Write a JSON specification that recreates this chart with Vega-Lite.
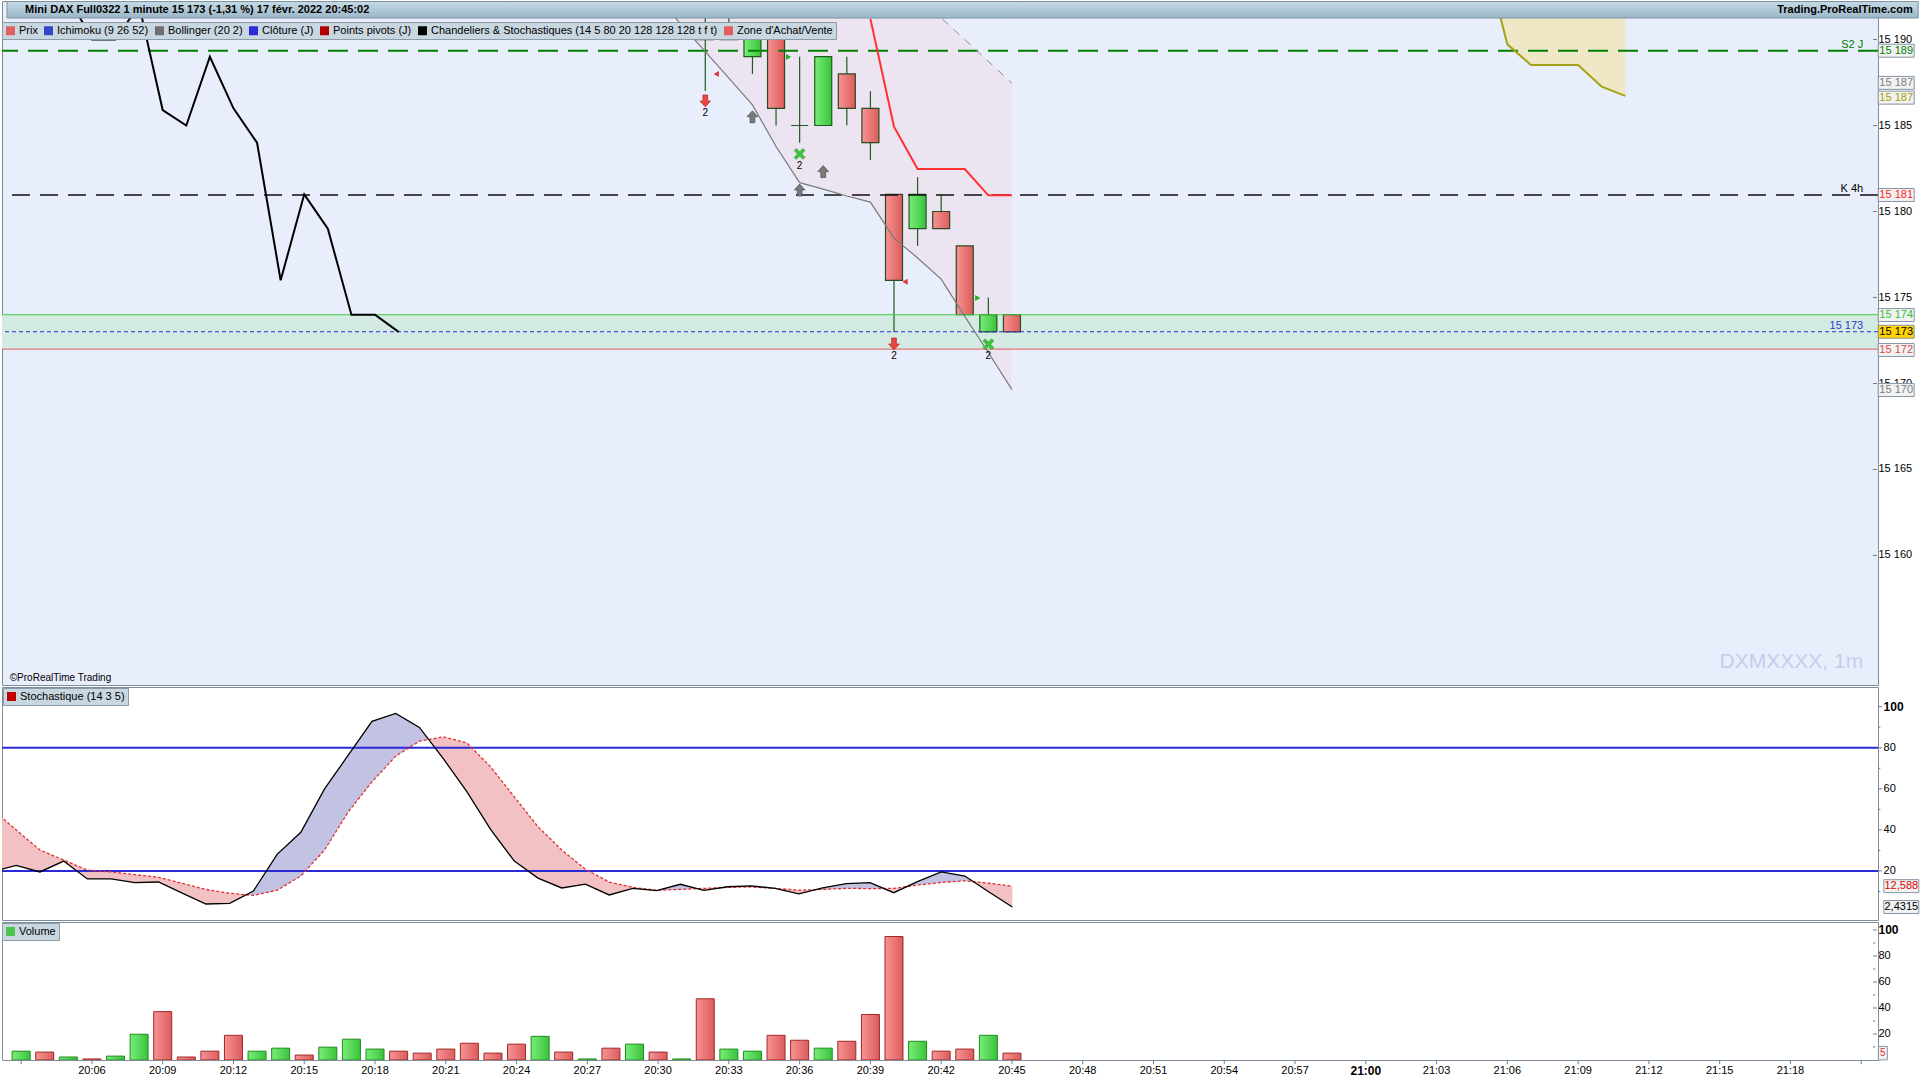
{
"$schema": "https://vega.github.io/schema/vega-lite/v6.json",
"padding": 0,
"background": "#FFFFFF",
"spacing": 0,
"datasets": {
"candles": [
{"t":"2022-02-17T20:32:00","open":15190.8,"high":15191.6,"low":15187.0,"close":15190.0},
{"t":"2022-02-17T20:33:00","open":15190.8,"high":15191.6,"low":15190.0,"close":15190.0},
{"t":"2022-02-17T20:34:00","open":15189.0,"high":15190.4,"low":15188.0,"close":15190.4},
{"t":"2022-02-17T20:35:00","open":15190.5,"high":15191.0,"low":15185.0,"close":15186.0},
{"t":"2022-02-17T20:36:00","open":15185.0,"high":15189.0,"low":15184.0,"close":15185.0},
{"t":"2022-02-17T20:37:00","open":15185.0,"high":15189.0,"low":15185.0,"close":15189.0},
{"t":"2022-02-17T20:38:00","open":15188.0,"high":15189.0,"low":15185.0,"close":15186.0},
{"t":"2022-02-17T20:39:00","open":15186.0,"high":15187.0,"low":15183.0,"close":15184.0},
{"t":"2022-02-17T20:40:00","open":15181.0,"high":15181.0,"low":15173.0,"close":15176.0},
{"t":"2022-02-17T20:41:00","open":15179.0,"high":15182.0,"low":15178.0,"close":15181.0},
{"t":"2022-02-17T20:42:00","open":15180.0,"high":15181.0,"low":15179.0,"close":15179.0},
{"t":"2022-02-17T20:43:00","open":15178.0,"high":15178.0,"low":15174.0,"close":15174.0},
{"t":"2022-02-17T20:44:00","open":15173.0,"high":15175.0,"low":15173.0,"close":15174.0},
{"t":"2022-02-17T20:45:00","open":15174.0,"high":15174.0,"low":15173.0,"close":15173.0}
],
"bb": [
{"t":"2022-02-17T20:30:00","low":15192.4,"up":15200},
{"t":"2022-02-17T20:31:00","low":15190.84,"up":15200},
{"t":"2022-02-17T20:32:00","low":15189.3,"up":15200},
{"t":"2022-02-17T20:33:00","low":15187.76,"up":15200},
{"t":"2022-02-17T20:34:00","low":15186.2,"up":15200},
{"t":"2022-02-17T20:35:00","low":15183.78,"up":15200},
{"t":"2022-02-17T20:36:00","low":15181.68,"up":15199},
{"t":"2022-02-17T20:37:00","low":15181.3,"up":15198},
{"t":"2022-02-17T20:38:00","low":15180.9,"up":15197},
{"t":"2022-02-17T20:39:00","low":15180.55,"up":15196},
{"t":"2022-02-17T20:40:00","low":15178.45,"up":15194},
{"t":"2022-02-17T20:41:00","low":15177.3,"up":15192.5},
{"t":"2022-02-17T20:42:00","low":15176.07,"up":15191.26},
{"t":"2022-02-17T20:43:00","low":15173.9,"up":15190.0},
{"t":"2022-02-17T20:44:00","low":15171.8,"up":15188.73},
{"t":"2022-02-17T20:45:00","low":15169.64,"up":15187.46}
],
"closeLine": [
{"t":"2022-02-17T20:05:00","v":15192.5},
{"t":"2022-02-17T20:06:00","v":15190.0},
{"t":"2022-02-17T20:07:00","v":15190.0},
{"t":"2022-02-17T20:08:00","v":15192.0},
{"t":"2022-02-17T20:09:00","v":15185.9},
{"t":"2022-02-17T20:10:00","v":15185.0},
{"t":"2022-02-17T20:11:00","v":15189.0},
{"t":"2022-02-17T20:12:00","v":15186.0},
{"t":"2022-02-17T20:13:00","v":15184.0},
{"t":"2022-02-17T20:14:00","v":15176.0},
{"t":"2022-02-17T20:15:00","v":15181.0},
{"t":"2022-02-17T20:16:00","v":15179.0},
{"t":"2022-02-17T20:17:00","v":15174.0},
{"t":"2022-02-17T20:18:00","v":15174.0},
{"t":"2022-02-17T20:19:00","v":15173.0}
],
"kijun": [
{"t":"2022-02-17T20:39:00","v":15191.2},
{"t":"2022-02-17T20:40:00","v":15184.93},
{"t":"2022-02-17T20:41:00","v":15182.47},
{"t":"2022-02-17T20:42:00","v":15182.47},
{"t":"2022-02-17T20:43:00","v":15182.47},
{"t":"2022-02-17T20:44:00","v":15180.94},
{"t":"2022-02-17T20:45:00","v":15180.94}
],
"cloud": [
{"t":"2022-02-17T21:05:00","lo":15195.1,"hi":15200},
{"t":"2022-02-17T21:06:00","lo":15189.72,"hi":15200},
{"t":"2022-02-17T21:07:00","lo":15188.52,"hi":15200},
{"t":"2022-02-17T21:08:00","lo":15188.52,"hi":15200},
{"t":"2022-02-17T21:09:00","lo":15188.52,"hi":15200},
{"t":"2022-02-17T21:10:00","lo":15187.26,"hi":15200},
{"t":"2022-02-17T21:11:00","lo":15186.72,"hi":15200}
],
"signals": [
{"t":"2022-02-17T20:32:00","price":15186.43,"kind":"sellArrow"},
{"t":"2022-02-17T20:40:00","price":15172.3,"kind":"sellArrow"},
{"t":"2022-02-17T20:34:00","price":15185.51,"kind":"buyArrow"},
{"t":"2022-02-17T20:36:00","price":15181.25,"kind":"buyArrow"},
{"t":"2022-02-17T20:37:00","price":15182.32,"kind":"buyArrow"},
{"t":"2022-02-17T20:36:00","price":15183.35,"kind":"cross"},
{"t":"2022-02-17T20:44:00","price":15172.28,"kind":"cross"},
{"t":"2022-02-17T20:32:28","price":15187.99,"kind":"triLeft"},
{"t":"2022-02-17T20:40:28","price":15175.92,"kind":"triLeft"},
{"t":"2022-02-17T20:35:32","price":15188.99,"kind":"triRight"},
{"t":"2022-02-17T20:43:33","price":15174.97,"kind":"triRight"}
],
"priceLast": [
{"series":"S2 J","value":15189.35},
{"series":"Bollinger haut","value":15187.48},
{"series":"Ichimoku","value":15186.62},
{"series":"Kijun","value":15180.96},
{"series":"Zone haute","value":15173.98},
{"series":"Prix","value":15173.01},
{"series":"Zone basse","value":15171.95},
{"series":"Bollinger bas","value":15169.62}
],
"priceTicks": [{"v":15160},{"v":15165},{"v":15170},{"v":15175},{"v":15180},{"v":15185},{"v":15190}],
"pctTicks": [{"v":10},{"v":20},{"v":30},{"v":40},{"v":50},{"v":60},{"v":70},{"v":80},{"v":90},{"v":100}],
"xTicks": [
{"t":"2022-02-17T20:03:00"},{"t":"2022-02-17T20:06:00"},{"t":"2022-02-17T20:09:00"},{"t":"2022-02-17T20:12:00"},{"t":"2022-02-17T20:15:00"},{"t":"2022-02-17T20:18:00"},{"t":"2022-02-17T20:21:00"},{"t":"2022-02-17T20:24:00"},{"t":"2022-02-17T20:27:00"},{"t":"2022-02-17T20:30:00"},{"t":"2022-02-17T20:33:00"},{"t":"2022-02-17T20:36:00"},{"t":"2022-02-17T20:39:00"},{"t":"2022-02-17T20:42:00"},{"t":"2022-02-17T20:45:00"},{"t":"2022-02-17T20:48:00"},{"t":"2022-02-17T20:51:00"},{"t":"2022-02-17T20:54:00"},{"t":"2022-02-17T20:57:00"},{"t":"2022-02-17T21:00:00"},{"t":"2022-02-17T21:03:00"},{"t":"2022-02-17T21:06:00"},{"t":"2022-02-17T21:09:00"},{"t":"2022-02-17T21:12:00"},{"t":"2022-02-17T21:15:00"},{"t":"2022-02-17T21:18:00"},{"t":"2022-02-17T21:21:00"}
],
"xLabels": [
{"t":"2022-02-17T20:06:00"},{"t":"2022-02-17T20:09:00"},{"t":"2022-02-17T20:12:00"},{"t":"2022-02-17T20:15:00"},{"t":"2022-02-17T20:18:00"},{"t":"2022-02-17T20:21:00"},{"t":"2022-02-17T20:24:00"},{"t":"2022-02-17T20:27:00"},{"t":"2022-02-17T20:30:00"},{"t":"2022-02-17T20:33:00"},{"t":"2022-02-17T20:36:00"},{"t":"2022-02-17T20:39:00"},{"t":"2022-02-17T20:42:00"},{"t":"2022-02-17T20:45:00"},{"t":"2022-02-17T20:48:00"},{"t":"2022-02-17T20:51:00"},{"t":"2022-02-17T20:54:00"},{"t":"2022-02-17T20:57:00"},{"t":"2022-02-17T21:03:00"},{"t":"2022-02-17T21:06:00"},{"t":"2022-02-17T21:09:00"},{"t":"2022-02-17T21:12:00"},{"t":"2022-02-17T21:15:00"},{"t":"2022-02-17T21:18:00"}
],
"xLabelsBold": [{"t":"2022-02-17T21:00:00"}],
"legendPrice": [
{"item":"Prix"},{"item":"Ichimoku (9 26 52)"},{"item":"Bollinger (20 2)"},{"item":"Clôture (J)"},{"item":"Points pivots (J)"},{"item":"Chandeliers & Stochastiques (14 5 80 20 128 128 128 t f t)"},{"item":"Zone d'Achat/Vente"}
],
"stoch": [
{"t":"2022-02-17T20:02:00","k":19.7,"d":50.0},
{"t":"2022-02-17T20:03:00","k":22.7,"d":39.9},
{"t":"2022-02-17T20:04:00","k":19.5,"d":30.2},
{"t":"2022-02-17T20:05:00","k":24.8,"d":25.3},
{"t":"2022-02-17T20:06:00","k":16.1,"d":20.4},
{"t":"2022-02-17T20:07:00","k":16.1,"d":19.5},
{"t":"2022-02-17T20:08:00","k":14.3,"d":18.2},
{"t":"2022-02-17T20:09:00","k":14.6,"d":16.9},
{"t":"2022-02-17T20:10:00","k":9.2,"d":14.0},
{"t":"2022-02-17T20:11:00","k":3.9,"d":11.0},
{"t":"2022-02-17T20:12:00","k":4.2,"d":9.1},
{"t":"2022-02-17T20:13:00","k":10.2,"d":8.1},
{"t":"2022-02-17T20:14:00","k":28.1,"d":10.6},
{"t":"2022-02-17T20:15:00","k":38.8,"d":17.5},
{"t":"2022-02-17T20:16:00","k":60.0,"d":30.2},
{"t":"2022-02-17T20:17:00","k":76.4,"d":48.8},
{"t":"2022-02-17T20:18:00","k":92.9,"d":63.4},
{"t":"2022-02-17T20:19:00","k":96.7,"d":75.9},
{"t":"2022-02-17T20:20:00","k":89.9,"d":83.2},
{"t":"2022-02-17T20:21:00","k":74.8,"d":85.3},
{"t":"2022-02-17T20:22:00","k":58.6,"d":82.4},
{"t":"2022-02-17T20:23:00","k":40.2,"d":70.7},
{"t":"2022-02-17T20:24:00","k":24.8,"d":56.1},
{"t":"2022-02-17T20:25:00","k":16.5,"d":41.5},
{"t":"2022-02-17T20:26:00","k":11.7,"d":30.2},
{"t":"2022-02-17T20:27:00","k":13.6,"d":20.8},
{"t":"2022-02-17T20:28:00","k":8.3,"d":14.6},
{"t":"2022-02-17T20:29:00","k":11.5,"d":12.0},
{"t":"2022-02-17T20:30:00","k":10.4,"d":10.6},
{"t":"2022-02-17T20:31:00","k":13.5,"d":11.0},
{"t":"2022-02-17T20:32:00","k":10.5,"d":11.5},
{"t":"2022-02-17T20:33:00","k":12.3,"d":12.0},
{"t":"2022-02-17T20:34:00","k":12.7,"d":12.2},
{"t":"2022-02-17T20:35:00","k":11.5,"d":11.5},
{"t":"2022-02-17T20:36:00","k":8.8,"d":10.6},
{"t":"2022-02-17T20:37:00","k":11.7,"d":11.0},
{"t":"2022-02-17T20:38:00","k":13.8,"d":11.5},
{"t":"2022-02-17T20:39:00","k":14.3,"d":11.4},
{"t":"2022-02-17T20:40:00","k":9.4,"d":11.5},
{"t":"2022-02-17T20:41:00","k":14.8,"d":13.1},
{"t":"2022-02-17T20:42:00","k":19.5,"d":14.4},
{"t":"2022-02-17T20:43:00","k":17.5,"d":15.2},
{"t":"2022-02-17T20:44:00","k":9.9,"d":14.0},
{"t":"2022-02-17T20:45:00","k":2.4315,"d":12.588}
],
"blueFill": [
{"t":"2022-02-17T20:12:42","k":8.4,"d":8.4,"seg":1},
{"t":"2022-02-17T20:13:00","k":10.2,"d":8.1,"seg":1},
{"t":"2022-02-17T20:14:00","k":28.1,"d":10.6,"seg":1},
{"t":"2022-02-17T20:15:00","k":38.8,"d":17.5,"seg":1},
{"t":"2022-02-17T20:16:00","k":60.0,"d":30.2,"seg":1},
{"t":"2022-02-17T20:17:00","k":76.4,"d":48.8,"seg":1},
{"t":"2022-02-17T20:18:00","k":92.9,"d":63.4,"seg":1},
{"t":"2022-02-17T20:19:00","k":96.7,"d":75.9,"seg":1},
{"t":"2022-02-17T20:20:00","k":89.9,"d":83.2,"seg":1},
{"t":"2022-02-17T20:20:23","k":84.0,"d":84.0,"seg":1},
{"t":"2022-02-17T20:30:04","k":10.63,"d":10.63,"seg":2},
{"t":"2022-02-17T20:31:00","k":13.5,"d":11.0,"seg":2},
{"t":"2022-02-17T20:31:43","k":11.36,"d":11.36,"seg":2},
{"t":"2022-02-17T20:32:46","k":11.88,"d":11.88,"seg":3},
{"t":"2022-02-17T20:33:00","k":12.3,"d":12.0,"seg":3},
{"t":"2022-02-17T20:34:00","k":12.7,"d":12.2,"seg":3},
{"t":"2022-02-17T20:35:00","k":11.5,"d":11.5,"seg":3},
{"t":"2022-02-17T20:36:43","k":10.89,"d":10.89,"seg":4},
{"t":"2022-02-17T20:37:00","k":11.7,"d":11.0,"seg":4},
{"t":"2022-02-17T20:38:00","k":13.8,"d":11.5,"seg":4},
{"t":"2022-02-17T20:39:00","k":14.3,"d":11.4,"seg":4},
{"t":"2022-02-17T20:39:35","k":11.46,"d":11.46,"seg":4},
{"t":"2022-02-17T20:40:33","k":12.38,"d":12.38,"seg":5},
{"t":"2022-02-17T20:41:00","k":14.8,"d":13.1,"seg":5},
{"t":"2022-02-17T20:42:00","k":19.5,"d":14.4,"seg":5},
{"t":"2022-02-17T20:43:00","k":17.5,"d":15.2,"seg":5},
{"t":"2022-02-17T20:43:22","k":14.77,"d":14.77,"seg":5}
],
"stochLast": [
{"series":"%D","value":12.588,"label":"12,588"},
{"series":"%K","value":2.4315,"label":"2,4315"}
],
"volume": [
{"t":"2022-02-17T20:03:00","vol":6.8,"side":"up"},
{"t":"2022-02-17T20:04:00","vol":6.1,"side":"down"},
{"t":"2022-02-17T20:05:00","vol":2.3,"side":"up"},
{"t":"2022-02-17T20:06:00","vol":0.8,"side":"down"},
{"t":"2022-02-17T20:07:00","vol":3.0,"side":"up"},
{"t":"2022-02-17T20:08:00","vol":19.8,"side":"up"},
{"t":"2022-02-17T20:09:00","vol":37.2,"side":"down"},
{"t":"2022-02-17T20:10:00","vol":2.3,"side":"down"},
{"t":"2022-02-17T20:11:00","vol":6.8,"side":"down"},
{"t":"2022-02-17T20:12:00","vol":19.0,"side":"down"},
{"t":"2022-02-17T20:13:00","vol":6.8,"side":"up"},
{"t":"2022-02-17T20:14:00","vol":9.1,"side":"up"},
{"t":"2022-02-17T20:15:00","vol":3.8,"side":"down"},
{"t":"2022-02-17T20:16:00","vol":9.9,"side":"up"},
{"t":"2022-02-17T20:17:00","vol":16.0,"side":"up"},
{"t":"2022-02-17T20:18:00","vol":8.4,"side":"up"},
{"t":"2022-02-17T20:19:00","vol":6.8,"side":"down"},
{"t":"2022-02-17T20:20:00","vol":5.3,"side":"down"},
{"t":"2022-02-17T20:21:00","vol":8.4,"side":"down"},
{"t":"2022-02-17T20:22:00","vol":12.9,"side":"down"},
{"t":"2022-02-17T20:23:00","vol":5.3,"side":"down"},
{"t":"2022-02-17T20:24:00","vol":12.2,"side":"down"},
{"t":"2022-02-17T20:25:00","vol":18.2,"side":"up"},
{"t":"2022-02-17T20:26:00","vol":6.1,"side":"down"},
{"t":"2022-02-17T20:27:00","vol":0.8,"side":"up"},
{"t":"2022-02-17T20:28:00","vol":9.1,"side":"down"},
{"t":"2022-02-17T20:29:00","vol":12.2,"side":"up"},
{"t":"2022-02-17T20:30:00","vol":6.1,"side":"down"},
{"t":"2022-02-17T20:31:00","vol":0.8,"side":"up"},
{"t":"2022-02-17T20:32:00","vol":47.1,"side":"down"},
{"t":"2022-02-17T20:33:00","vol":8.4,"side":"up"},
{"t":"2022-02-17T20:34:00","vol":6.8,"side":"up"},
{"t":"2022-02-17T20:35:00","vol":19.0,"side":"down"},
{"t":"2022-02-17T20:36:00","vol":15.2,"side":"down"},
{"t":"2022-02-17T20:37:00","vol":9.1,"side":"up"},
{"t":"2022-02-17T20:38:00","vol":14.4,"side":"down"},
{"t":"2022-02-17T20:39:00","vol":35.0,"side":"down"},
{"t":"2022-02-17T20:40:00","vol":95.0,"side":"down"},
{"t":"2022-02-17T20:41:00","vol":14.4,"side":"up"},
{"t":"2022-02-17T20:42:00","vol":6.8,"side":"down"},
{"t":"2022-02-17T20:43:00","vol":8.4,"side":"down"},
{"t":"2022-02-17T20:44:00","vol":19.0,"side":"up"},
{"t":"2022-02-17T20:45:00","vol":5.3,"side":"down"}
]
},
"vconcat": [
{
"width": 1876,
"height": 684,
"view": {"fill": "#E8EEFC", "stroke": "#7D8D9B"},
"layer": [
{"data": {"name": "bb"}, "mark": {"type": "area", "color": "#EDE4F1", "clip": true},
 "encoding": {
  "x": {"field": "t", "type": "temporal", "scale": {"domain": [{"year":2022,"month":2,"date":17,"hours":20,"minutes":2,"seconds":24},{"year":2022,"month":2,"date":17,"hours":21,"minutes":21,"seconds":30}]}, "axis": null},
  "y": {"field": "low", "type": "quantitative", "scale": {"domain": [15152.47, 15192.24], "zero": false, "nice": false}, "axis": null},
  "y2": {"field": "up"}}},
{"data": {"name": "cloud"}, "mark": {"type": "area", "color": "#EFE8C6", "clip": true},
 "encoding": {"x": {"field": "t", "type": "temporal", "axis": null}, "y": {"field": "lo", "type": "quantitative", "axis": null}, "y2": {"field": "hi"}}},
{"data": {"values": [{}]}, "mark": {"type": "rect", "color": "#D3EBE3"},
 "encoding": {"y": {"datum": 15174, "type": "quantitative", "axis": null}, "y2": {"datum": 15172}}},
{"data": {"name": "candles"}, "mark": {"type": "rule", "color": "#215A21", "strokeWidth": 1.2, "clip": true},
 "encoding": {"x": {"field": "t", "type": "temporal", "axis": null}, "y": {"field": "low", "type": "quantitative", "axis": null}, "y2": {"field": "high"}}},
{"data": {"name": "candles"}, "transform": [{"filter": "datum.close >= datum.open"}],
 "mark": {"type": "bar", "width": 17, "fill": {"gradient": "linear", "x1": 0, "y1": 0, "x2": 1, "y2": 0, "stops": [{"offset": 0, "color": "#78EE78"}, {"offset": 1, "color": "#3CC23C"}]}, "stroke": "#1F5A1F", "strokeWidth": 1.2, "clip": true},
 "encoding": {"x": {"field": "t", "type": "temporal", "axis": null}, "y": {"field": "open", "type": "quantitative", "axis": null}, "y2": {"field": "close"}}},
{"data": {"name": "candles"}, "transform": [{"filter": "datum.close < datum.open"}],
 "mark": {"type": "bar", "width": 17, "fill": {"gradient": "linear", "x1": 0, "y1": 0, "x2": 1, "y2": 0, "stops": [{"offset": 0, "color": "#F79393"}, {"offset": 1, "color": "#DC5C5C"}]}, "stroke": "#2A4A22", "strokeWidth": 1.2, "clip": true},
 "encoding": {"x": {"field": "t", "type": "temporal", "axis": null}, "y": {"field": "open", "type": "quantitative", "axis": null}, "y2": {"field": "close"}}},
{"data": {"values": [{}]}, "mark": {"type": "rule", "color": "#45CC45", "strokeWidth": 1},
 "encoding": {"y": {"datum": 15174, "type": "quantitative", "axis": null}}},
{"data": {"values": [{}]}, "mark": {"type": "rule", "color": "#E05A5A", "strokeWidth": 1},
 "encoding": {"y": {"datum": 15172, "type": "quantitative", "axis": null}}},
{"data": {"values": [{}]}, "mark": {"type": "rule", "color": "#2A2AE0", "strokeWidth": 1, "strokeDash": [4, 3]},
 "encoding": {"y": {"datum": 15173.01, "type": "quantitative", "axis": null}}},
{"data": {"values": [{}]}, "mark": {"type": "rule", "color": "#008000", "strokeWidth": 2, "strokeDash": [20, 10]},
 "encoding": {"y": {"datum": 15189.35, "type": "quantitative", "axis": null}}},
{"data": {"values": [{}]}, "mark": {"type": "rule", "color": "#111111", "strokeWidth": 1.5, "strokeDash": [18, 10]},
 "encoding": {"y": {"datum": 15180.96, "type": "quantitative", "axis": null}}},
{"data": {"name": "bb"}, "mark": {"type": "line", "color": "#7A7A7A", "strokeWidth": 1.2, "clip": true},
 "encoding": {"x": {"field": "t", "type": "temporal", "axis": null}, "y": {"field": "low", "type": "quantitative", "axis": null}}},
{"data": {"name": "bb"}, "mark": {"type": "line", "color": "#8C8C8C", "strokeWidth": 1, "strokeDash": [8, 7], "clip": true},
 "encoding": {"x": {"field": "t", "type": "temporal", "axis": null}, "y": {"field": "up", "type": "quantitative", "axis": null}}},
{"data": {"name": "closeLine"}, "mark": {"type": "line", "color": "#000000", "strokeWidth": 2, "clip": true},
 "encoding": {"x": {"field": "t", "type": "temporal", "axis": null}, "y": {"field": "v", "type": "quantitative", "axis": null}}},
{"data": {"name": "kijun"}, "mark": {"type": "line", "color": "#FF3030", "strokeWidth": 2, "clip": true},
 "encoding": {"x": {"field": "t", "type": "temporal", "axis": null}, "y": {"field": "v", "type": "quantitative", "axis": null}}},
{"data": {"name": "cloud"}, "mark": {"type": "line", "color": "#A3A314", "strokeWidth": 2, "clip": true},
 "encoding": {"x": {"field": "t", "type": "temporal", "axis": null}, "y": {"field": "lo", "type": "quantitative", "axis": null}}},
{"data": {"name": "signals"}, "transform": [{"filter": "datum.kind == 'sellArrow'"}],
 "mark": {"type": "point", "shape": "M-0.4,-1H0.4V0H0.9L0,1L-0.9,0H-0.4Z", "size": 144, "filled": true, "fill": "#EA4545", "stroke": "#B02020", "strokeWidth": 0.6, "opacity": 1},
 "encoding": {"x": {"field": "t", "type": "temporal", "axis": null}, "y": {"field": "price", "type": "quantitative", "axis": null}}},
{"data": {"name": "signals"}, "transform": [{"filter": "datum.kind == 'buyArrow'"}],
 "mark": {"type": "point", "shape": "M-0.4,1H0.4V0H0.9L0,-1L-0.9,0H-0.4Z", "size": 144, "filled": true, "fill": "#7A7A7A", "stroke": "#3A3A3A", "strokeWidth": 0.6, "opacity": 1},
 "encoding": {"x": {"field": "t", "type": "temporal", "axis": null}, "y": {"field": "price", "type": "quantitative", "axis": null}}},
{"data": {"name": "signals"}, "transform": [{"filter": "datum.kind == 'cross'"}],
 "mark": {"type": "point", "shape": "M-1,-0.6L-0.6,-1L0,-0.4L0.6,-1L1,-0.6L0.4,0L1,0.6L0.6,1L0,0.4L-0.6,1L-1,0.6L-0.4,0Z", "size": 121, "filled": true, "fill": "#3CC23C", "stroke": "#2A9A2A", "strokeWidth": 0.5, "opacity": 1},
 "encoding": {"x": {"field": "t", "type": "temporal", "axis": null}, "y": {"field": "price", "type": "quantitative", "axis": null}}},
{"data": {"name": "signals"}, "transform": [{"filter": "datum.kind == 'triLeft'"}],
 "mark": {"type": "point", "shape": "triangle-left", "size": 36, "filled": true, "fill": "#E03030", "opacity": 1},
 "encoding": {"x": {"field": "t", "type": "temporal", "axis": null}, "y": {"field": "price", "type": "quantitative", "axis": null}}},
{"data": {"name": "signals"}, "transform": [{"filter": "datum.kind == 'triRight'"}],
 "mark": {"type": "point", "shape": "triangle-right", "size": 36, "filled": true, "fill": "#20B020", "opacity": 1},
 "encoding": {"x": {"field": "t", "type": "temporal", "axis": null}, "y": {"field": "price", "type": "quantitative", "axis": null}}},
{"data": {"name": "signals"}, "transform": [{"filter": "datum.kind == 'sellArrow' || datum.kind == 'cross'"}],
 "mark": {"type": "text", "text": "2", "fontSize": 10, "color": "#000000", "dy": 12, "baseline": "middle", "align": "center"},
 "encoding": {"x": {"field": "t", "type": "temporal", "axis": null}, "y": {"field": "price", "type": "quantitative", "axis": null}}},
{"data": {"values": [{}]}, "mark": {"type": "text", "text": "S2 J", "fontSize": 11, "color": "#008000", "align": "right", "baseline": "bottom", "dy": -1},
 "encoding": {"x": {"datum": {"year":2022,"month":2,"date":17,"hours":21,"minutes":21,"seconds":5}, "type": "temporal", "axis": null}, "y": {"datum": 15189.35, "type": "quantitative", "axis": null}}},
{"data": {"values": [{}]}, "mark": {"type": "text", "text": "K 4h", "fontSize": 11, "color": "#000000", "align": "right", "baseline": "bottom", "dy": -1},
 "encoding": {"x": {"datum": {"year":2022,"month":2,"date":17,"hours":21,"minutes":21,"seconds":5}, "type": "temporal", "axis": null}, "y": {"datum": 15180.96, "type": "quantitative", "axis": null}}},
{"data": {"values": [{}]}, "mark": {"type": "text", "text": "15 173", "fontSize": 11, "color": "#3434D0", "align": "right", "baseline": "bottom", "dy": -1},
 "encoding": {"x": {"datum": {"year":2022,"month":2,"date":17,"hours":21,"minutes":21,"seconds":5}, "type": "temporal", "axis": null}, "y": {"datum": 15173.01, "type": "quantitative", "axis": null}}},
{"data": {"values": [{}]}, "mark": {"type": "text", "text": "DXMXXXX, 1m", "fontSize": 21, "color": "#C3CEEA", "align": "right", "baseline": "middle"},
 "encoding": {"x": {"datum": {"year":2022,"month":2,"date":17,"hours":21,"minutes":21,"seconds":5}, "type": "temporal", "axis": null}, "y": {"datum": 15153.81, "type": "quantitative", "axis": null}}},
{"data": {"values": [{}]}, "mark": {"type": "text", "text": "©ProRealTime Trading", "fontSize": 10, "color": "#000000", "align": "left", "baseline": "middle"},
 "encoding": {"x": {"datum": {"year":2022,"month":2,"date":17,"hours":20,"minutes":2,"seconds":31}, "type": "temporal", "axis": null}, "y": {"datum": 15152.87, "type": "quantitative", "axis": null}}},
{"data": {"name": "priceTicks"}, "mark": {"type": "rule", "color": "#6D7D8B", "strokeWidth": 1, "clip": false},
 "encoding": {"x": {"datum": {"year":2022,"month":2,"date":17,"hours":21,"minutes":21,"seconds":30}, "type": "temporal", "axis": null},
  "x2": {"datum": {"year":2022,"month":2,"date":17,"hours":21,"minutes":21,"seconds":40}},
  "y": {"field": "v", "type": "quantitative", "axis": null}}},
{"data": {"name": "priceTicks"}, "mark": {"type": "text", "fontSize": 11, "color": "#000000", "align": "left", "baseline": "middle", "clip": false},
 "encoding": {"x": {"datum": {"year":2022,"month":2,"date":17,"hours":21,"minutes":21,"seconds":44}, "type": "temporal", "axis": null},
  "y": {"field": "v", "type": "quantitative", "axis": null},
  "text": {"field": "v", "type": "quantitative", "format": ",d"}}},
{"data": {"values": [{}]}, "mark": {"type": "rect", "clip": false, "fill": {"gradient": "linear", "x1": 0, "y1": 0, "x2": 0, "y2": 1, "stops": [{"offset": 0, "color": "#C7DAE6"}, {"offset": 1, "color": "#9AB6C7"}]}, "stroke": "#7E94A2", "strokeWidth": 1},
 "encoding": {"x": {"datum": {"year":2022,"month":2,"date":17,"hours":20,"minutes":2,"seconds":24}, "type": "temporal", "axis": null},
  "x2": {"datum": {"year":2022,"month":2,"date":17,"hours":21,"minutes":23,"seconds":25}},
  "y": {"datum": 15192.21, "type": "quantitative", "axis": null},
  "y2": {"datum": 15191.25}}},
{"data": {"values": [{}]}, "mark": {"type": "text", "text": "Mini DAX Full0322 1 minute 15 173 (-1,31 %) 17 févr. 2022 20:45:02", "fontSize": 11, "fontWeight": "bold", "color": "#000000", "align": "left", "baseline": "middle"},
 "encoding": {"x": {"datum": {"year":2022,"month":2,"date":17,"hours":20,"minutes":3,"seconds":10}, "type": "temporal", "axis": null}, "y": {"datum": 15191.7, "type": "quantitative", "axis": null}}},
{"data": {"values": [{}]}, "mark": {"type": "text", "text": "Trading.ProRealTime.com", "fontSize": 11, "fontWeight": "bold", "color": "#000000", "align": "right", "baseline": "middle"},
 "encoding": {"x": {"datum": {"year":2022,"month":2,"date":17,"hours":21,"minutes":23,"seconds":11}, "type": "temporal", "axis": null}, "y": {"datum": 15191.7, "type": "quantitative", "axis": null}}},
{"data": {"name": "priceLast"},
 "mark": {"type": "point", "shape": "M-1,-0.36H1V0.36H-1Z", "size": 1296, "filled": true, "stroke": "#8595A3", "strokeWidth": 1, "opacity": 1},
 "encoding": {"x": {"datum": {"year":2022,"month":2,"date":17,"hours":21,"minutes":22,"seconds":29}, "type": "temporal", "axis": null},
  "y": {"field": "value", "type": "quantitative", "axis": null},
  "fill": {"condition": {"test": "datum.series == 'Prix'", "value": "#FFD400"}, "value": "#F2F2F2"}}},
{"data": {"name": "priceLast"},
 "mark": {"type": "text", "fontSize": 11, "align": "center", "baseline": "middle"},
 "encoding": {"x": {"datum": {"year":2022,"month":2,"date":17,"hours":21,"minutes":22,"seconds":29}, "type": "temporal", "axis": null},
  "y": {"field": "value", "type": "quantitative", "axis": null},
  "text": {"field": "value", "type": "quantitative", "format": ",d"},
  "color": {"condition": [
    {"test": "datum.series == 'S2 J'", "value": "#008000"},
    {"test": "datum.series == 'Bollinger haut' || datum.series == 'Bollinger bas'", "value": "#7C7C7C"},
    {"test": "datum.series == 'Ichimoku'", "value": "#A3A000"},
    {"test": "datum.series == 'Kijun'", "value": "#FF2525"},
    {"test": "datum.series == 'Zone haute'", "value": "#35C035"},
    {"test": "datum.series == 'Zone basse'", "value": "#E04848"}], "value": "#000000"}}},
{"data": {"name": "legendPrice"},
 "mark": {"type": "point", "filled": true, "clip": true},
 "encoding": {"x": {"datum": {"year":2022,"month":2,"date":17,"hours":20,"minutes":0}, "type": "temporal", "axis": null},
  "y": {"datum": 15170, "type": "quantitative", "axis": null},
  "color": {"field": "item", "type": "nominal",
   "scale": {"domain": ["Prix","Ichimoku (9 26 52)","Bollinger (20 2)","Clôture (J)","Points pivots (J)","Chandeliers & Stochastiques (14 5 80 20 128 128 128 t f t)","Zone d'Achat/Vente"], "range": ["#E06060","#3048C8","#6E6E6E","#2B2BD8","#B00000","#000000","#E06060"]},
   "legend": {"title": null, "orient": "none", "legendX": 0, "legendY": 21, "direction": "horizontal", "symbolType": "square", "symbolSize": 81, "symbolStrokeWidth": 0, "symbolOpacity": 1, "labelFontSize": 11, "labelColor": "#000000", "labelLimit": 400, "labelOffset": 3, "columnPadding": 5, "padding": 3, "fillColor": "#C9D7E1", "strokeColor": "#8B9BA8", "cornerRadius": 0}}}}
]
},
{
"width": 1876,
"height": 233,
"view": {"fill": "#FFFFFF", "stroke": "#7D8D9B"},
"layer": [
{"data": {"name": "stoch"}, "mark": {"type": "area", "color": "#F2C1C3", "clip": true},
 "encoding": {
  "x": {"field": "t", "type": "temporal", "scale": {"domain": [{"year":2022,"month":2,"date":17,"hours":20,"minutes":2,"seconds":24},{"year":2022,"month":2,"date":17,"hours":21,"minutes":21,"seconds":30}]}, "axis": null},
  "y": {"field": "k", "type": "quantitative", "scale": {"domain": [-3.9, 109.6], "zero": false, "nice": false}, "axis": null},
  "y2": {"field": "d"}}},
{"data": {"name": "blueFill"}, "mark": {"type": "area", "color": "#C2C2E3", "clip": true},
 "encoding": {"x": {"field": "t", "type": "temporal", "axis": null}, "y": {"field": "k", "type": "quantitative", "axis": null}, "y2": {"field": "d"}, "detail": {"field": "seg", "type": "nominal"}}},
{"data": {"values": [{}]}, "mark": {"type": "rule", "color": "#2A2AD8", "strokeWidth": 2},
 "encoding": {"y": {"datum": 80, "type": "quantitative", "axis": null}}},
{"data": {"values": [{}]}, "mark": {"type": "rule", "color": "#2A2AD8", "strokeWidth": 2},
 "encoding": {"y": {"datum": 20, "type": "quantitative", "axis": null}}},
{"data": {"name": "stoch"}, "mark": {"type": "line", "color": "#E23030", "strokeWidth": 1.3, "strokeDash": [3, 2], "clip": true},
 "encoding": {"x": {"field": "t", "type": "temporal", "axis": null}, "y": {"field": "d", "type": "quantitative", "axis": null}}},
{"data": {"name": "stoch"}, "mark": {"type": "line", "color": "#000000", "strokeWidth": 1.3, "clip": true},
 "encoding": {"x": {"field": "t", "type": "temporal", "axis": null}, "y": {"field": "k", "type": "quantitative", "axis": null}}},
{"data": {"name": "pctTicks"}, "transform": [{"filter": "datum.v % 20 == 0"}], "mark": {"type": "rule", "color": "#6D7D8B", "strokeWidth": 1, "clip": false},
 "encoding": {"x": {"datum": {"year":2022,"month":2,"date":17,"hours":21,"minutes":21,"seconds":30}, "type": "temporal", "axis": null},
  "x2": {"datum": {"year":2022,"month":2,"date":17,"hours":21,"minutes":21,"seconds":40}},
  "y": {"field": "v", "type": "quantitative", "axis": null}}},
{"data": {"name": "pctTicks"}, "transform": [{"filter": "datum.v % 20 != 0"}], "mark": {"type": "rule", "color": "#6D7D8B", "strokeWidth": 1, "clip": false},
 "encoding": {"x": {"datum": {"year":2022,"month":2,"date":17,"hours":21,"minutes":21,"seconds":30}, "type": "temporal", "axis": null},
  "x2": {"datum": {"year":2022,"month":2,"date":17,"hours":21,"minutes":21,"seconds":36}},
  "y": {"field": "v", "type": "quantitative", "axis": null}}},
{"data": {"name": "pctTicks"}, "transform": [{"filter": "datum.v % 20 == 0 && datum.v < 100"}], "mark": {"type": "text", "fontSize": 11, "color": "#000000", "align": "left", "baseline": "middle", "clip": false},
 "encoding": {"x": {"datum": {"year":2022,"month":2,"date":17,"hours":21,"minutes":21,"seconds":44}, "type": "temporal", "axis": null},
  "y": {"field": "v", "type": "quantitative", "axis": null},
  "text": {"field": "v", "type": "quantitative", "format": "d"}}},
{"data": {"name": "pctTicks"}, "transform": [{"filter": "datum.v == 100"}], "mark": {"type": "text", "fontSize": 12, "fontWeight": "bold", "color": "#000000", "align": "left", "baseline": "middle", "clip": false},
 "encoding": {"x": {"datum": {"year":2022,"month":2,"date":17,"hours":21,"minutes":21,"seconds":44}, "type": "temporal", "axis": null},
  "y": {"field": "v", "type": "quantitative", "axis": null},
  "text": {"field": "v", "type": "quantitative", "format": "d"}}},
{"data": {"name": "stochLast"},
 "mark": {"type": "point", "shape": "M-1,-0.37H1V0.37H-1Z", "size": 1225, "filled": true, "fill": "#F2F2F2", "stroke": "#8595A3", "strokeWidth": 1, "opacity": 1},
 "encoding": {"x": {"datum": {"year":2022,"month":2,"date":17,"hours":21,"minutes":22,"seconds":29}, "type": "temporal", "axis": null},
  "y": {"field": "value", "type": "quantitative", "axis": null}}},
{"data": {"name": "stochLast"},
 "mark": {"type": "text", "fontSize": 11, "align": "center", "baseline": "middle"},
 "encoding": {"x": {"datum": {"year":2022,"month":2,"date":17,"hours":21,"minutes":22,"seconds":29}, "type": "temporal", "axis": null},
  "y": {"field": "value", "type": "quantitative", "axis": null},
  "text": {"field": "label", "type": "nominal"},
  "color": {"condition": {"test": "datum.series == '%D'", "value": "#E00000"}, "value": "#000000"}}},
{"data": {"values": [{"item": "Stochastique (14 3 5)"}]},
 "mark": {"type": "point", "filled": true, "clip": true},
 "encoding": {"x": {"datum": {"year":2022,"month":2,"date":17,"hours":20,"minutes":0}, "type": "temporal", "axis": null},
  "y": {"datum": 50, "type": "quantitative", "axis": null},
  "color": {"field": "item", "type": "nominal", "scale": {"domain": ["Stochastique (14 3 5)"], "range": ["#C00000"]},
   "legend": {"title": null, "orient": "none", "legendX": 1, "legendY": 1, "direction": "horizontal", "symbolType": "square", "symbolSize": 81, "symbolStrokeWidth": 0, "symbolOpacity": 1, "labelFontSize": 11, "labelColor": "#000000", "labelLimit": 400, "labelOffset": 3, "padding": 3, "fillColor": "#C9D7E1", "strokeColor": "#8B9BA8", "cornerRadius": 0}}}}
]
},
{
"width": 1876,
"height": 138,
"view": {"fill": "#FFFFFF", "stroke": "#7D8D9B"},
"layer": [
{"data": {"name": "volume"}, "transform": [{"filter": "datum.side == 'up'"}],
 "mark": {"type": "bar", "width": 18, "fill": {"gradient": "linear", "x1": 0, "y1": 0, "x2": 1, "y2": 0, "stops": [{"offset": 0, "color": "#78EE78"}, {"offset": 1, "color": "#3CC23C"}]}, "stroke": "#1E8C1E", "strokeWidth": 1, "clip": true},
 "encoding": {
  "x": {"field": "t", "type": "temporal", "scale": {"domain": [{"year":2022,"month":2,"date":17,"hours":20,"minutes":2,"seconds":24},{"year":2022,"month":2,"date":17,"hours":21,"minutes":21,"seconds":30}]}, "axis": null},
  "y": {"field": "vol", "type": "quantitative", "scale": {"domain": [0, 106.15], "nice": false}, "axis": null}}},
{"data": {"name": "volume"}, "transform": [{"filter": "datum.side == 'down'"}],
 "mark": {"type": "bar", "width": 18, "fill": {"gradient": "linear", "x1": 0, "y1": 0, "x2": 1, "y2": 0, "stops": [{"offset": 0, "color": "#F79393"}, {"offset": 1, "color": "#DC5C5C"}]}, "stroke": "#A02828", "strokeWidth": 1, "clip": true},
 "encoding": {"x": {"field": "t", "type": "temporal", "axis": null}, "y": {"field": "vol", "type": "quantitative", "axis": null}}},
{"data": {"name": "pctTicks"}, "transform": [{"filter": "datum.v % 20 == 0"}], "mark": {"type": "rule", "color": "#6D7D8B", "strokeWidth": 1, "clip": false},
 "encoding": {"x": {"datum": {"year":2022,"month":2,"date":17,"hours":21,"minutes":21,"seconds":30}, "type": "temporal", "axis": null},
  "x2": {"datum": {"year":2022,"month":2,"date":17,"hours":21,"minutes":21,"seconds":40}},
  "y": {"field": "v", "type": "quantitative", "axis": null}}},
{"data": {"name": "pctTicks"}, "transform": [{"filter": "datum.v % 20 != 0"}], "mark": {"type": "rule", "color": "#6D7D8B", "strokeWidth": 1, "clip": false},
 "encoding": {"x": {"datum": {"year":2022,"month":2,"date":17,"hours":21,"minutes":21,"seconds":30}, "type": "temporal", "axis": null},
  "x2": {"datum": {"year":2022,"month":2,"date":17,"hours":21,"minutes":21,"seconds":36}},
  "y": {"field": "v", "type": "quantitative", "axis": null}}},
{"data": {"name": "pctTicks"}, "transform": [{"filter": "datum.v % 20 == 0 && datum.v < 100"}], "mark": {"type": "text", "fontSize": 11, "color": "#000000", "align": "left", "baseline": "middle", "clip": false},
 "encoding": {"x": {"datum": {"year":2022,"month":2,"date":17,"hours":21,"minutes":21,"seconds":44}, "type": "temporal", "axis": null},
  "y": {"field": "v", "type": "quantitative", "axis": null},
  "text": {"field": "v", "type": "quantitative", "format": "d"}}},
{"data": {"name": "pctTicks"}, "transform": [{"filter": "datum.v == 100"}], "mark": {"type": "text", "fontSize": 12, "fontWeight": "bold", "color": "#000000", "align": "left", "baseline": "middle", "clip": false},
 "encoding": {"x": {"datum": {"year":2022,"month":2,"date":17,"hours":21,"minutes":21,"seconds":44}, "type": "temporal", "axis": null},
  "y": {"field": "v", "type": "quantitative", "axis": null},
  "text": {"field": "v", "type": "quantitative", "format": "d"}}},
{"data": {"name": "xTicks"}, "mark": {"type": "rule", "color": "#6D7D8B", "strokeWidth": 1, "clip": false},
 "encoding": {"x": {"field": "t", "type": "temporal", "axis": null}, "y": {"datum": 0, "type": "quantitative", "axis": null}, "y2": {"datum": -3.2}}},
{"data": {"name": "xLabels"}, "mark": {"type": "text", "fontSize": 11, "color": "#000000", "align": "center", "baseline": "middle", "clip": false},
 "encoding": {"x": {"field": "t", "type": "temporal", "axis": null}, "y": {"datum": -8.6, "type": "quantitative", "axis": null}, "text": {"field": "t", "type": "temporal", "format": "%H:%M"}}},
{"data": {"name": "xLabelsBold"}, "mark": {"type": "text", "fontSize": 12, "fontWeight": "bold", "color": "#000000", "align": "center", "baseline": "middle", "clip": false},
 "encoding": {"x": {"field": "t", "type": "temporal", "axis": null}, "y": {"datum": -8.6, "type": "quantitative", "axis": null}, "text": {"field": "t", "type": "temporal", "format": "%H:%M"}}},
{"data": {"values": [{"value": 5.3}]},
 "mark": {"type": "point", "shape": "M-1,-1.5H1V1.5H-1Z", "size": 81, "filled": true, "fill": "#F2F2F2", "stroke": "#8595A3", "strokeWidth": 1, "opacity": 1},
 "encoding": {"x": {"datum": {"year":2022,"month":2,"date":17,"hours":21,"minutes":21,"seconds":55}, "type": "temporal", "axis": null},
  "y": {"field": "value", "type": "quantitative", "axis": null}}},
{"data": {"values": [{"value": 5.3}]},
 "mark": {"type": "text", "fontSize": 10, "color": "#E03030", "align": "center", "baseline": "middle"},
 "encoding": {"x": {"datum": {"year":2022,"month":2,"date":17,"hours":21,"minutes":21,"seconds":55}, "type": "temporal", "axis": null},
  "y": {"field": "value", "type": "quantitative", "axis": null},
  "text": {"field": "value", "type": "quantitative", "format": "d"}}},
{"data": {"values": [{"item": "Volume"}]},
 "mark": {"type": "point", "filled": true, "clip": true},
 "encoding": {"x": {"datum": {"year":2022,"month":2,"date":17,"hours":20,"minutes":0}, "type": "temporal", "axis": null},
  "y": {"datum": 50, "type": "quantitative", "axis": null},
  "color": {"field": "item", "type": "nominal", "scale": {"domain": ["Volume"], "range": ["#4CC44C"]},
   "legend": {"title": null, "orient": "none", "legendX": 0, "legendY": 1, "direction": "horizontal", "symbolType": "square", "symbolSize": 81, "symbolStrokeWidth": 0, "symbolOpacity": 1, "labelFontSize": 11, "labelColor": "#000000", "labelLimit": 400, "labelOffset": 3, "padding": 3, "fillColor": "#C9D7E1", "strokeColor": "#8B9BA8", "cornerRadius": 0}}}}
]
}
],
"resolve": {"scale": {"x": "independent", "y": "independent", "color": "independent"}, "legend": {"color": "independent"}},
"config": {
 "font": "Liberation Sans",
 "view": {"stroke": "#7D8D9B"},
 "locale": {"number": {"decimal": ",", "thousands": " ", "grouping": [3], "currency": ["", " €"]}},
 "legend": {"labelFont": "Liberation Sans"},
 "text": {"font": "Liberation Sans"}
}
}
